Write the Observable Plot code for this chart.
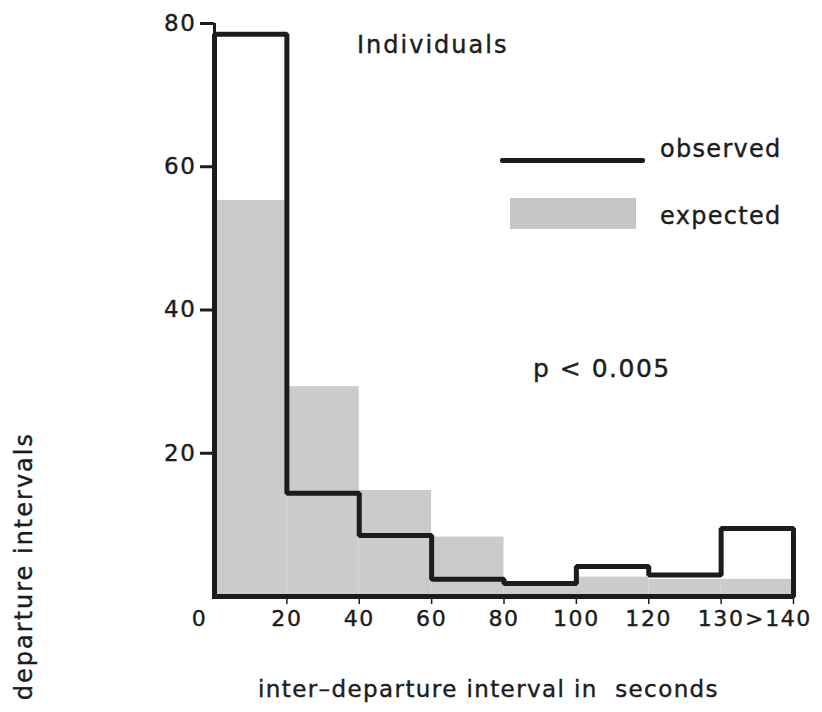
<!DOCTYPE html>
<html>
<head>
<meta charset="utf-8">
<script src="https://cdn.jsdelivr.net/npm/d3@7"></script>
<script src="https://cdn.jsdelivr.net/npm/@observablehq/plot@0.6"></script>
<style>
  html, body { margin: 0; padding: 0; background: #fff; overflow: hidden; }
  #wrap { position: relative; width: 822px; height: 712px; overflow: hidden;
          font-family: "DejaVu Sans", sans-serif; color: #1c1c1c; }
  .lbl { position: absolute; white-space: nowrap; line-height: 1; -webkit-text-stroke: 0.4px #1c1c1c; }
  #chart svg text { letter-spacing: 1.6px; stroke: #1c1c1c; stroke-width: 0.4px; }
</style>
</head>
<body>
<div id="wrap">
  <div id="chart"></div>
  <div class="lbl" style="left:357px; top:33px; font-size:24px; letter-spacing:2px;">Individuals</div>
  <div style="position:absolute; left:500px; top:158px; width:145px; height:5px; background:#1c1c1c; border-radius:2px;"></div>
  <div class="lbl" style="left:660px; top:137px; font-size:24px; letter-spacing:1.3px;">observed</div>
  <div style="position:absolute; left:510px; top:198px; width:126px; height:31px; background:#c6c6c6;"></div>
  <div class="lbl" style="left:660px; top:204px; font-size:24px; letter-spacing:1.3px;">expected</div>
  <div class="lbl" style="left:533px; top:356px; font-size:25px; letter-spacing:1.5px;">p&nbsp;&lt;&nbsp;0.005</div>
  <div class="lbl" style="left:258px; top:678px; font-size:23px; letter-spacing:1.4px;">inter–departure interval in&nbsp; seconds</div>
  <div class="lbl" style="left:12px; top:432px; font-size:24px; letter-spacing:2px; writing-mode:vertical-rl; transform:rotate(180deg);">departure intervals</div>
</div>
<script>
// bins of inter-departure interval (seconds)
const bins = ["0–20", "20–40", "40–60", "60–80", "80–100", "100–120", "120–130", "130–>140"];
// number of intervals per bin
const observed = [78.5, 14.4, 8.5, 2.4, 1.8, 4.2, 3.0, 9.5];
const expected = [55.3, 29.3, 14.8, 8.3, 1.5, 2.7, 2.4, 2.4];
// tick labels at bin boundaries
const xTickLabels = ["0", "20", "40", "60", "80", "100", "120", "130", ">140"];
const yTicks = [20, 40, 60, 80];

const ink = "#1c1c1c";
const bounds = xTickLabels.map((label, i) => ({i, label}));
const last = bounds.length - 1;
const expectedRows = expected.map((v, i) => ({bin: bins[i], i, v}));

// closed outline of the observed histogram (steps + baseline)
const outline = [{x: 0, y: 0}];
observed.forEach((v, i) => { outline.push({x: i, y: v}); outline.push({x: i + 1, y: v}); });
outline.push({x: observed.length, y: 0});
outline.push({x: 0, y: 0});

const labelOpts = {x: "i", y: () => 0, text: "label", dy: 22, fill: ink, fontSize: 22, textAnchor: "middle"};

const chart = Plot.plot({
  width: 822,
  height: 712,
  marginLeft: 214,
  marginRight: 29,
  marginTop: 23,
  marginBottom: 116,
  style: {fontFamily: "DejaVu Sans, sans-serif", fontSize: "22px", color: ink, background: "#fff"},
  x: {domain: [0, bins.length], axis: null},
  y: {domain: [0, 80], axis: null},
  marks: [
    Plot.rectY(expectedRows, {x1: "i", x2: d => d.i + 1, y: "v", fill: "#cbcbcb", inset: 0}),
    Plot.ruleX([0], {y1: 0, y2: 80, stroke: ink, strokeWidth: 3}),
    Plot.axisY({ticks: yTicks, tickSize: 14, tickPadding: 4, strokeWidth: 3, stroke: ink, fill: ink,
                fontSize: 23, label: null, anchor: "left"}),
    Plot.axisX({ticks: d3.range(1, bins.length + 1), tickSize: 8, tickFormat: () => "", strokeWidth: 1.5,
                stroke: ink, label: null, anchor: "bottom"}),
    Plot.line(outline, {x: "x", y: "y", stroke: ink, strokeWidth: 5, strokeLinejoin: "miter", strokeLinecap: "square"}),
    Plot.text(bounds.filter(d => d.i > 0 && d.i < last), labelOpts),
    Plot.text(bounds.filter(d => d.i === 0), {...labelOpts, dx: -15}),
    Plot.text(bounds.filter(d => d.i === last), {...labelOpts, dx: -15})
  ]
});
document.getElementById("chart").appendChild(chart);
</script>
</body>
</html>
